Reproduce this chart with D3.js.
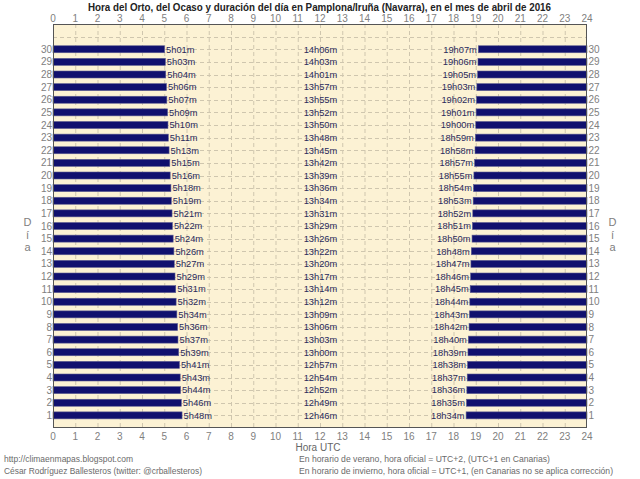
<!DOCTYPE html>
<html><head><meta charset="utf-8">
<script src="https://cdn.jsdelivr.net/npm/d3@7"></script>
<style>body{margin:0;background:#fff}svg{display:block}text{font-family:"Liberation Sans",Arial,sans-serif}</style>
</head><body>
<svg id="c" width="640" height="479"></svg>
<script>
const days = d3.range(1, 31);
const sunrise = ["5h48m","5h46m","5h44m","5h43m","5h41m","5h39m","5h37m","5h36m","5h34m","5h32m","5h31m","5h29m","5h27m","5h26m","5h24m","5h22m","5h21m","5h19m","5h18m","5h16m","5h15m","5h13m","5h11m","5h10m","5h09m","5h07m","5h06m","5h04m","5h03m","5h01m"];
const sunset = ["18h34m","18h35m","18h36m","18h37m","18h38m","18h39m","18h40m","18h42m","18h43m","18h44m","18h45m","18h46m","18h47m","18h48m","18h50m","18h51m","18h52m","18h53m","18h54m","18h55m","18h57m","18h58m","18h59m","19h00m","19h01m","19h02m","19h03m","19h05m","19h06m","19h07m"];
const duration = ["12h46m","12h49m","12h52m","12h54m","12h57m","13h00m","13h03m","13h06m","13h09m","13h12m","13h14m","13h17m","13h20m","13h22m","13h26m","13h29m","13h31m","13h34m","13h36m","13h39m","13h42m","13h45m","13h48m","13h50m","13h52m","13h55m","13h57m","14h01m","14h03m","14h06m"];
const hourTicks = d3.range(0, 25);
const title = "Hora del Orto, del Ocaso y duración del día en Pamplona/Iruña (Navarra), en el mes de abril de 2016";
const footLeft = ["http://climaenmapas.blogspot.com","César Rodríguez Ballesteros (twitter: @crballesteros)"];
const footRight = ["En horario de verano, hora oficial = UTC+2, (UTC+1 en Canarias)","En horario de invierno, hora oficial = UTC+1, (en Canarias no se aplica corrección)"];

const toH = s => { const m = s.match(/(\d+)h(\d+)m/); return +m[1] + (+m[2]) / 60; };
const data = days.map((d, i) => ({day: d, rise: toH(sunrise[i]), set: toH(sunset[i]), riseL: sunrise[i], setL: sunset[i], durL: duration[i]}));

const svg = d3.select("#c");
const L = 53, R = 587, T = 24, B = 428;
const x = d3.scaleLinear().domain([0, 24]).range([L, R]);
const y = d3.scaleLinear().domain([0, 32]).range([B, T]);
const bh = 7;

svg.append("rect").attr("x", L).attr("y", T).attr("width", R - L).attr("height", B - T).attr("fill", "#fcf2d4");

// grid
svg.append("g").selectAll("line").data(d3.range(1, 24)).join("line")
  .attr("x1", d => x(d) + 0.5).attr("x2", d => x(d) + 0.5).attr("y1", T).attr("y2", B)
  .attr("stroke", "#cfc6ae").attr("stroke-width", 1).attr("stroke-dasharray", "4,3");
svg.append("g").selectAll("line").data(d3.range(1, 32)).join("line")
  .attr("x1", L).attr("x2", R).attr("y1", d => Math.round(y(d)) + 0.5).attr("y2", d => Math.round(y(d)) + 0.5)
  .attr("stroke", "#cfc6ae").attr("stroke-width", 1).attr("stroke-dasharray", "4,3");

// bars
const g = svg.append("g");
g.selectAll("rect.r").data(data).join("rect").attr("class", "r")
  .attr("x", x(0)).attr("width", d => x(d.rise) - x(0))
  .attr("y", d => y(d.day) - bh / 2).attr("height", bh)
  .attr("fill", "#10106e").attr("stroke", "#5c5c92").attr("stroke-width", 0.6);
g.selectAll("rect.s").data(data).join("rect").attr("class", "s")
  .attr("x", d => x(d.set)).attr("width", d => x(24) - x(d.set))
  .attr("y", d => y(d.day) - bh / 2).attr("height", bh)
  .attr("fill", "#10106e").attr("stroke", "#5c5c92").attr("stroke-width", 0.6);

// value labels
const lc = "#2a2a5c";
g.selectAll("text.r").data(data).join("text").attr("class", "r")
  .attr("x", d => x(d.rise) + 1.5).attr("y", d => y(d.day)).attr("dy", "0.36em")
  .attr("font-size", 9.3).attr("fill", lc).text(d => d.riseL);
g.selectAll("text.s").data(data).join("text").attr("class", "s")
  .attr("x", d => x(d.set) - 1.5).attr("y", d => y(d.day)).attr("dy", "0.36em")
  .attr("text-anchor", "end").attr("font-size", 9.3).attr("fill", lc).text(d => d.setL);
g.selectAll("text.d").data(data).join("text").attr("class", "d")
  .attr("x", x(12) + 0.5).attr("y", d => y(d.day)).attr("dy", "0.36em")
  .attr("text-anchor", "middle").attr("font-size", 9.3).attr("fill", lc).text(d => d.durL);

// border
svg.append("rect").attr("x", L + 0.5).attr("y", T + 0.5).attr("width", R - L - 1).attr("height", B - T - 1)
  .attr("fill", "none").attr("stroke", "#555").attr("stroke-width", 1);

// axes labels
const ac = "#808080";
svg.append("g").selectAll("text").data(hourTicks).join("text")
  .attr("x", d => x(d)).attr("y", 22).attr("text-anchor", "middle").attr("font-size", 10).attr("fill", ac).text(d => d);
svg.append("g").selectAll("text").data(hourTicks).join("text")
  .attr("x", d => x(d)).attr("y", 440).attr("text-anchor", "middle").attr("font-size", 10).attr("fill", ac).text(d => d);
svg.append("g").selectAll("text").data(days).join("text")
  .attr("x", L - 1).attr("y", d => y(d)).attr("dy", "0.36em").attr("text-anchor", "end").attr("font-size", 10).attr("fill", ac).text(d => d);
svg.append("g").selectAll("text").data(days).join("text")
  .attr("x", R + 1.5).attr("y", d => y(d)).attr("dy", "0.36em").attr("font-size", 10).attr("fill", ac).text(d => d);

// Día
["D", "í", "a"].forEach((ch, i) => {
  [27.5, 612.5].forEach(px => {
    svg.append("text").attr("x", px).attr("y", 226 + i * 12.5).attr("text-anchor", "middle")
      .attr("font-size", 11).attr("fill", ac).text(ch);
  });
});

svg.append("text").attr("x", 318).attr("y", 451).attr("text-anchor", "middle").attr("font-size", 10).attr("fill", "#666").text("Hora UTC");

// title
svg.append("text").attr("x", 88).attr("y", 11).attr("font-size", 11).attr("font-weight", "bold").attr("fill", "#222")
  .attr("textLength", 463).attr("lengthAdjust", "spacingAndGlyphs").text(title);

// footer
const fc = "#6a6a6a";
const fl = [[4, 462, 129, footLeft[0]], [4, 474, 198, footLeft[1]], [299, 462, 251, footRight[0]], [299, 474, 314, footRight[1]]];
fl.forEach(([fx, fy, w, t]) => {
  svg.append("text").attr("x", fx).attr("y", fy).attr("font-size", 8.2).attr("fill", fc)
    .attr("textLength", w).attr("lengthAdjust", "spacingAndGlyphs").text(t);
});
</script>
</body></html>
